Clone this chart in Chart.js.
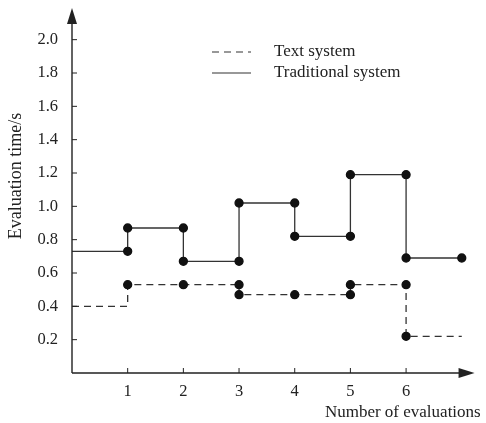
<!DOCTYPE html>
<html>
<head>
<meta charset="utf-8">
<script src="https://cdn.jsdelivr.net/npm/chart.js@4/dist/chart.umd.min.js"></script>
<style>
  html, body { margin: 0; padding: 0; background: #fff; }
  #wrap { width: 486px; height: 423px; }
</style>
</head>
<body>
<div id="wrap"><canvas id="evalChart"></canvas></div>
<script>
// Step data
const evalX = [0, 1, 1, 2, 3, 3, 4, 5, 5, 6, 6, 7];
const textValues = [0.40, 0.40, 0.53, 0.53, 0.53, 0.47, 0.47, 0.47, 0.53, 0.53, 0.22, 0.22];
const textMeasured = [false, false, true, true, true, true, true, true, true, true, true, false];

const tradX = [0, 1, 1, 2, 2, 3, 3, 4, 4, 5, 5, 6, 6, 7];
const tradValues = [0.73, 0.73, 0.87, 0.87, 0.67, 0.67, 1.02, 1.02, 0.82, 0.82, 1.19, 1.19, 0.69, 0.69];
const tradMeasured = [false, true, true, true, true, true, true, true, true, true, true, true, true, true];

const xTicks = [1, 2, 3, 4, 5, 6];
const yTicks = [0.2, 0.4, 0.6, 0.8, 1.0, 1.2, 1.4, 1.6, 1.8, 2.0];

const FONT = 'Liberation Serif, Times New Roman, serif';
const INK = '#222';

// axis lines with arrows, inward tick marks, y title and the legend
const axesPlugin = {
    id: 'axesPlugin',
    afterDraw(chart) {
        const ctx = chart.ctx;
        const xs = chart.scales.x, ys = chart.scales.y;
        const x0 = xs.getPixelForValue(0), y0 = ys.getPixelForValue(0);
        const xEnd = xs.getPixelForValue(7.23), yEnd = ys.getPixelForValue(2.19);
        ctx.save();
        ctx.strokeStyle = INK;
        ctx.fillStyle = INK;
        ctx.lineWidth = 1.4;
        ctx.beginPath();
        ctx.moveTo(x0, y0); ctx.lineTo(xEnd - 10, y0);
        ctx.moveTo(x0, y0); ctx.lineTo(x0, yEnd + 10);
        ctx.stroke();
        // arrows
        ctx.beginPath();
        ctx.moveTo(xEnd, y0); ctx.lineTo(xEnd - 16, y0 - 5); ctx.lineTo(xEnd - 16, y0 + 5); ctx.closePath();
        ctx.fill();
        ctx.beginPath();
        ctx.moveTo(x0, yEnd); ctx.lineTo(x0 - 5, yEnd + 16); ctx.lineTo(x0 + 5, yEnd + 16); ctx.closePath();
        ctx.fill();
        // ticks
        ctx.lineWidth = 1;
        ctx.beginPath();
        xTicks.forEach(v => {
            const px = xs.getPixelForValue(v);
            ctx.moveTo(px, y0); ctx.lineTo(px, y0 - 5);
        });
        yTicks.forEach(v => {
            const py = ys.getPixelForValue(v);
            ctx.moveTo(x0, py); ctx.lineTo(x0 + 5, py);
        });
        ctx.stroke();

        // y axis title
        ctx.save();
        ctx.translate(16, 176);
        ctx.rotate(-Math.PI / 2);
        ctx.font = '18px ' + FONT;
        ctx.textAlign = 'center';
        ctx.textBaseline = 'middle';
        ctx.fillText('Evaluation time/s', 0, 0);
        ctx.restore();

        // legend
        ctx.font = '17px ' + FONT;
        ctx.textBaseline = 'middle';
        chart.data.datasets.forEach((ds, i) => {
            const ly = 52 + i * 21;
            ctx.strokeStyle = ds.borderColor;
            ctx.lineWidth = 1.2;
            ctx.setLineDash(ds.borderDash || []);
            ctx.beginPath();
            ctx.moveTo(212, ly); ctx.lineTo(251, ly);
            ctx.stroke();
            ctx.setLineDash([]);
            ctx.fillStyle = INK;
            ctx.fillText(ds.label, 274, ly);
        });
        ctx.restore();
    }
};

function toPoints(xv, yv) {
    return xv.map((x, i) => ({ x: x, y: yv[i] }));
}

document.addEventListener('DOMContentLoaded', () => {
    const ctx = document.getElementById('evalChart').getContext('2d');
    new Chart(ctx, {
        type: 'line',
        data: {
            datasets: [{
                label: 'Text system',
                data: toPoints(evalX, textValues),
                borderColor: '#333',
                borderWidth: 1.3,
                borderDash: [7, 5],
                pointBackgroundColor: '#111',
                pointBorderColor: '#111',
                pointRadius: c => textMeasured[c.dataIndex] ? 4 : 0,
                tension: 0
            }, {
                label: 'Traditional system',
                data: toPoints(tradX, tradValues),
                borderColor: '#333',
                borderWidth: 1.3,
                pointBackgroundColor: '#111',
                pointBorderColor: '#111',
                pointRadius: c => tradMeasured[c.dataIndex] ? 4 : 0,
                tension: 0
            }]
        },
        options: {
            responsive: true,
            maintainAspectRatio: false,
            animation: false,
            layout: { padding: { top: 8, right: 3, left: 0, bottom: 0 } },
            plugins: {
                legend: { display: false },
                tooltip: { enabled: false }
            },
            scales: {
                x: {
                    type: 'linear',
                    min: 0,
                    max: 7.34,
                    border: { display: false },
                    grid: { display: false, drawTicks: false },
                    afterBuildTicks: s => { s.ticks = xTicks.map(v => ({ value: v })); },
                    afterFit: s => { s.height = 50; s.paddingLeft = 0; s.paddingRight = 0; },
                    ticks: { padding: 9, color: INK, font: { family: FONT, size: 16.5 } },
                    title: {
                        display: true,
                        text: 'Number of evaluations',
                        align: 'end',
                        color: INK,
                        font: { family: FONT, size: 17 },
                        padding: { top: 2, bottom: 0 }
                    }
                },
                y: {
                    min: 0,
                    max: 2.19,
                    border: { display: false },
                    grid: { display: false, drawTicks: false },
                    afterBuildTicks: s => { s.ticks = yTicks.map(v => ({ value: v })); },
                    afterFit: s => { s.width = 72; s.paddingTop = 0; s.paddingBottom = 0; },
                    ticks: {
                        padding: 14,
                        color: INK,
                        font: { family: FONT, size: 16.5 },
                        callback: v => v.toFixed(1)
                    }
                }
            }
        },
        plugins: [axesPlugin]
    });
});
</script>
</body>
</html>
